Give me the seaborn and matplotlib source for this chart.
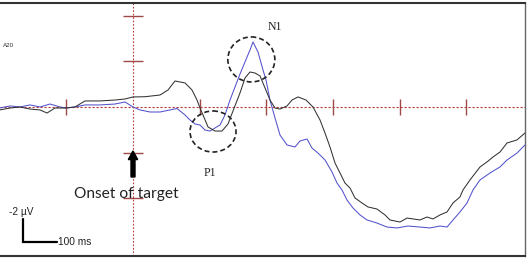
import matplotlib
matplotlib.use("Agg")
import matplotlib.pyplot as plt
import seaborn as sns
from matplotlib.patches import Ellipse

# ---- data (time in ms, amplitude in µV; negative plotted upward) ----
black_t = [-400, -369, -339, -309, -279, -258, -234, -201, -174, -144, -99, -54, -24, 0, 36, 81, 105,
           126, 156, 177, 192, 201, 210, 225, 246, 267, 285, 300, 321, 336, 351, 366, 381, 396, 411,
           426, 441, 462, 477, 495, 519, 540, 561, 576, 591, 606, 621, 636, 651, 666, 687, 705, 732,
           756, 771, 801, 822, 861, 882, 900, 921, 942, 960, 981, 990, 1011, 1041, 1062, 1080, 1101,
           1122, 1152, 1176]
black_v = [0.26, 0.09, 0.0, 0.18, 0.26, 0.53, 0.09, 0.09, 0.0, -0.53, -0.53, -0.61, -0.70, -0.88, -0.90,
           -1.05, -1.49, -2.28, -2.11, -1.49, -0.61, 0.09, 0.70, 1.75, 2.11, 2.11, 1.49, 0.35, -1.23,
           -2.54, -3.07, -2.98, -2.72, -1.67, -0.61, 0.09, 0.18, -0.09, -0.61, -0.88, -0.61, 0.0, 1.14,
           2.28, 3.51, 4.91, 5.79, 6.67, 7.11, 7.98, 8.42, 8.77, 8.95, 9.47, 9.91, 10.09, 9.74, 9.91,
           9.65, 9.82, 9.47, 9.21, 8.42, 7.89, 7.28, 6.40, 5.26, 4.82, 4.39, 3.95, 3.16, 2.89, 2.28]

blue_t = [-400, -369, -339, -309, -279, -249, -219, -201, -174, -144, -99, -54, -24, 0, 21, 51, 81, 111,
          132, 156, 171, 186, 201, 216, 231, 246, 261, 276, 291, 306, 321, 336, 351, 360, 375, 390,
          399, 411, 426, 441, 462, 486, 501, 522, 537, 555, 576, 597, 612, 627, 642, 660, 681, 702,
          732, 762, 792, 825, 861, 891, 921, 942, 960, 981, 1002, 1020, 1041, 1071, 1101, 1122, 1152,
          1176]
blue_v = [0.09, -0.09, 0.0, -0.18, 0.0, -0.26, 0.0, 0.09, 0.0, -0.18, -0.18, -0.26, -0.44, 0.0, 0.26,
          0.44, 0.44, 0.26, 0.13, 0.70, 1.14, 1.49, 1.58, 2.02, 2.11, 1.84, 1.58, 0.70, -0.61, -1.75,
          -2.89, -3.95, -5.00, -5.70, -4.82, -3.25, -2.37, -0.61, 0.96, 2.46, 3.33, 3.51, 2.98, 2.81,
          3.60, 4.04, 4.65, 5.70, 6.67, 7.28, 8.16, 8.86, 9.47, 9.91, 10.18, 10.53, 10.61, 10.44,
          10.53, 10.61, 10.44, 10.53, 9.91, 9.21, 8.42, 7.28, 6.40, 5.79, 5.26, 4.65, 4.04, 3.33]

time_ticks = [-200, 200, 400, 600, 800, 1000]
amp_ticks = [-8, -4, 4, 8]

sns.set_style("white")
plt.rcParams["font.family"] = ["DejaVu Sans"]

fig = plt.figure(figsize=(5.29, 2.69), dpi=100)
ax = fig.add_axes([0.0, 13 / 269, 525 / 529, 253 / 269])

ax.set_xlim(-399, 1176)
ax.set_ylim(13.07, -9.12)

red = "#b83a3a"
tick_red = "#a04848"
ax.axhline(0, color=red, lw=0.8, ls=(0, (2, 1.6)), zorder=1)
ax.axvline(0, color=red, lw=0.8, ls=(0, (1.5, 1.6)), zorder=1)
ax.vlines(time_ticks, -0.72, 0.72, color=tick_red, lw=1.0, zorder=1)
ax.hlines(amp_ticks, -30, 30, color=tick_red, lw=1.0, zorder=1)

sns.lineplot(x=blue_t, y=blue_v, ax=ax, color="#5252cc", lw=0.75, zorder=3)
sns.lineplot(x=black_t, y=black_v, ax=ax, color="#333333", lw=0.75, zorder=4)

# dashed circles
for (cx, cy, w, h) in [(355, -4.17, 141, 3.95), (240, 2.15, 138, 3.6)]:
    ax.add_patch(Ellipse((cx, cy), w, h, fill=False, ec="#222222", lw=1.2,
                         ls=(0, (3, 1.8)), zorder=5))

serif = ["Liberation Serif", "DejaVu Serif"]
ax.text(424, -7.02, "N1", fontsize=8.5, family=serif, ha="center", va="center", color="#222222")
ax.text(232, 5.79, "P1", fontsize=8.5, family=serif, ha="center", va="center", color="#222222")
ax.text(-390, -5.35, "A20", fontsize=4.5, family=["Liberation Sans"], ha="left", va="center",
        color="#333333")

# onset arrow
ax.arrow(0, 6.14, 0, -2.28, width=12, head_width=28, head_length=0.75,
         length_includes_head=True, color="black", zorder=6)
ax.text(-176, 7.63, "Onset of target", fontsize=11.2, family=["Lato"], ha="left", va="center",
        color="#222222")

# scale bar
ax.plot([-331, -331, -229], [9.82, 11.84, 11.84], color="black", lw=1.6, solid_joinstyle="miter")
ax.text(-372, 9.2, "-2 µV", fontsize=7.3, family=["Liberation Sans"], ha="left", va="center",
        color="#222222")
ax.text(-226, 11.84, "100 ms", fontsize=7.3, family=["Liberation Sans"], ha="left", va="center",
        color="#222222")

ax.set_xticks([])
ax.set_yticks([])
ax.set_xlabel("")
ax.set_ylabel("")
for side in ["top", "bottom"]:
    ax.spines[side].set_color("#333333")
    ax.spines[side].set_linewidth(1.5)
ax.spines["right"].set_color("#666666")
ax.spines["right"].set_linewidth(1.0)
ax.spines["left"].set_visible(False)

fig.savefig("out.png", dpi=100)
